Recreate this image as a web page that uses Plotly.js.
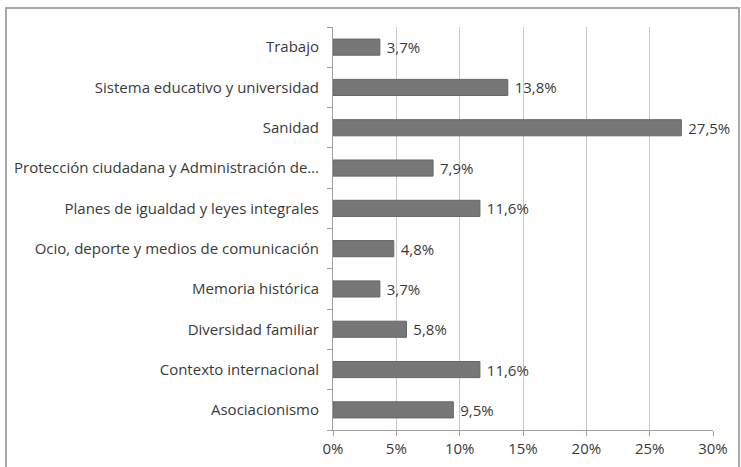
<!DOCTYPE html>
<html><head><meta charset="utf-8">
<script src="https://cdn.plot.ly/plotly-3.0.1.min.js"></script>
<style>html,body{margin:0;padding:0;background:#fff}#c{width:741px;height:467px}</style>
</head><body><div id="c"></div>
<script>
const categories = ["Trabajo","Sistema educativo y universidad","Sanidad","Protección ciudadana y Administración de…","Planes de igualdad y leyes integrales","Ocio, deporte y medios de comunicación","Memoria histórica","Diversidad familiar","Contexto internacional","Asociacionismo"];
const values = [3.7,13.8,27.5,7.9,11.6,4.8,3.7,5.8,11.6,9.5];
const xTicks = [0,5,10,15,20,25,30];

const font = "Open Sans, Lato, sans-serif";
Plotly.newPlot("c", [{
  type: "bar", orientation: "h",
  y: categories.slice().reverse(), x: values.slice().reverse(),
  marker: {color: "#777777", line: {color: "#666666", width: 1}},
  text: values.slice().reverse().map(v => "\u00a0" + v.toFixed(1).replace(".", ",") + "%"),
  textposition: "outside", cliponaxis: false, constraintext: "none",
  textfont: {family: font, size: 15, color: "#3a3a3a"},
  hoverinfo: "none"
}], {
  width: 741, height: 467,
  margin: {l: 333, r: 28, t: 27, b: 37, pad: 0},
  paper_bgcolor: "#fff", plot_bgcolor: "#fff",
  bargap: 0.6, showlegend: false,
  separators: ",.",
  uniformtext: {mode: false},
  font: {family: font, size: 15, color: "#3a3a3a"},
  xaxis: {range: [0, 30], tickvals: xTicks, ticktext: xTicks.map(t => t + "%"),
          showgrid: true, gridcolor: "#c8c8c8", gridwidth: 1, zeroline: false,
          showline: true, linecolor: "#a0a0a0", linewidth: 1,
          ticks: "outside", ticklen: 5, tickcolor: "#a0a0a0",
          tickfont: {family: font, size: 15, color: "#3a3a3a"}, fixedrange: true},
  yaxis: {type: "category", showgrid: false, zeroline: false,
          showline: true, linecolor: "#a0a0a0", linewidth: 1,
          ticks: "outside", ticklen: 5, tickcolor: "#a0a0a0", tickson: "boundaries",
          ticklabelstandoff: 10,
          tickfont: {family: font, size: 15, color: "#3a3a3a"}, fixedrange: true},
  shapes: [{type: "rect", xref: "paper", yref: "paper",
            x0: -327/380, x1: 1 + 26/380, y0: -50/402, y1: 1 + 19/402,
            line: {color: "#a8a8a8", width: 2}, fillcolor: "rgba(0,0,0,0)"}]
}, {staticPlot: true});
</script></body></html>
